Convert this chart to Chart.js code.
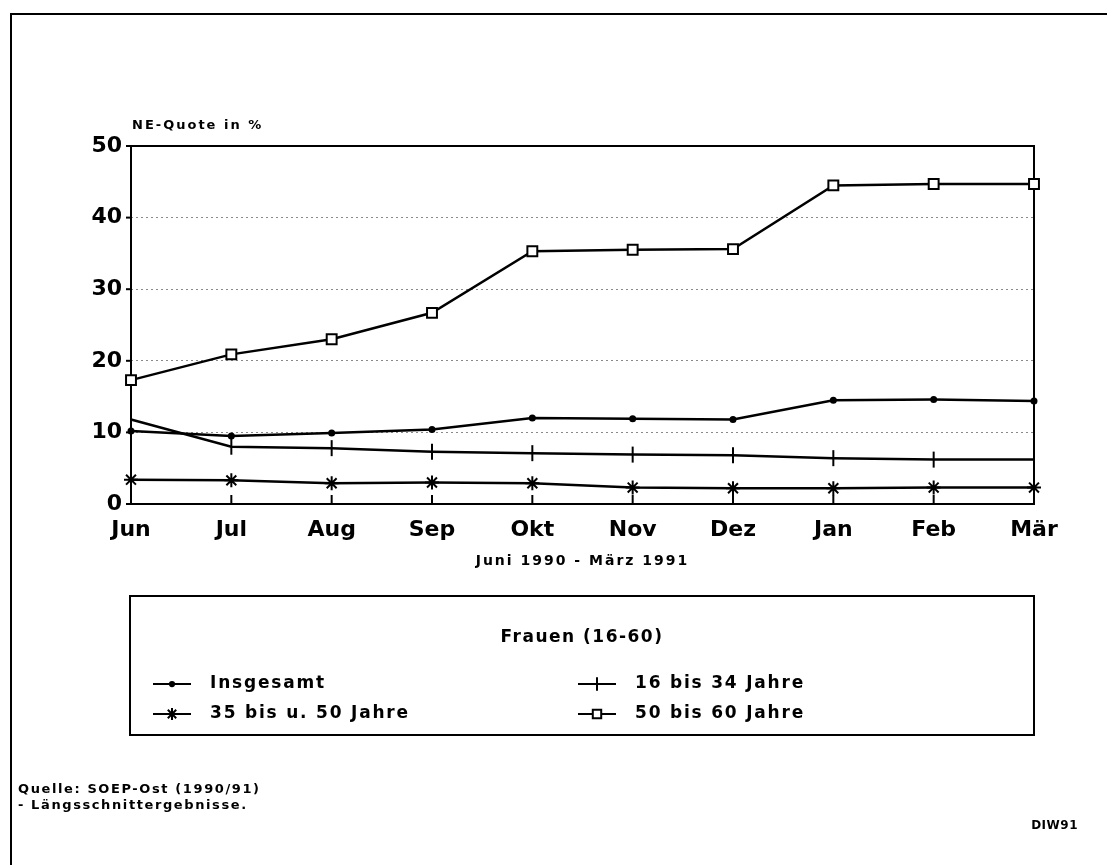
<!DOCTYPE html>
<html><head><meta charset="utf-8">
<script src="https://cdn.jsdelivr.net/npm/chart.js@4/dist/chart.umd.min.js"></script>
<style>html,body{margin:0;padding:0;background:#fff}canvas{display:block}</style>
</head><body>
<canvas id="c" width="1107" height="865"></canvas>
<script>
const categories = ['Jun','Jul','Aug','Sep','Okt','Nov','Dez','Jan','Feb','Mär'];
const insgesamt = [10.2, 9.5, 9.9, 10.4, 12.0, 11.9, 11.8, 14.5, 14.6, 14.4];
const j16bis34 = [11.8, 8.0, 7.8, 7.3, 7.1, 6.9, 6.8, 6.4, 6.2, 6.2];
const j35bis50 = [3.4, 3.3, 2.9, 3.0, 2.9, 2.3, 2.2, 2.2, 2.3, 2.3];
const j50bis60 = [17.3, 20.9, 23.0, 26.7, 35.3, 35.5, 35.6, 44.5, 44.7, 44.7];
const seriesNames = ['Insgesamt','16 bis 34 Jahre','35 bis u. 50 Jahre','50 bis 60 Jahre'];
const yTicks = [0, 10, 20, 30, 40, 50];
const yTitle = 'NE-Quote in %';
const xTitle = 'Juni 1990 - März 1991';
const legendTitle = 'Frauen (16-60)';
const sourceLines = ['Quelle: SOEP-Ost (1990/91)', '- Längsschnittergebnisse.'];
const credit = 'DIW91';

const FONT = '"DejaVu Sans", "Liberation Sans", Arial, sans-serif';

function ds(label, data, style){
  return Object.assign({label, data, borderColor:'#000', backgroundColor:'#000', borderWidth:2.5,
    pointBorderColor:'#000', pointBorderWidth:2, tension:0, clip:false}, style);
}
const datasets = [
  ds(seriesNames[0], insgesamt, {pointStyle:'circle', pointRadius:2.5, pointBackgroundColor:'#000'}),
  ds(seriesNames[1], j16bis34, {pointStyle:'line', pointRotation:90, pointRadius:8, pointBackgroundColor:'#000'}),
  ds(seriesNames[2], j35bis50, {pointStyle:'star', pointRadius:7, pointBackgroundColor:'#000'}),
  ds(seriesNames[3], j50bis60, {pointStyle:'rect', pointRadius:7, pointBackgroundColor:'#fff'})
];

function txt(ctx, s, x, y, size, align, spacing){
  ctx.font = 'bold ' + size + 'px ' + FONT;
  ctx.textAlign = align || 'left';
  ctx.textBaseline = 'middle';
  try { ctx.letterSpacing = (spacing||0) + 'px'; } catch(e){}
  ctx.fillStyle = '#000';
  ctx.fillText(s, x, y);
  try { ctx.letterSpacing = '0px'; } catch(e){}
}
function seg(ctx,x1,y1,x2,y2,w){ctx.beginPath();ctx.lineWidth=w||2;ctx.moveTo(x1,y1);ctx.lineTo(x2,y2);ctx.stroke();}

const deco = {
  id:'deco',
  beforeDatasetsDraw(chart){
    const {ctx, chartArea:a, scales:{x,y}} = chart;
    ctx.save();
    ctx.strokeStyle = '#000';
    ctx.lineWidth = 2;
    ctx.strokeRect(a.left, a.top, a.right-a.left, a.bottom-a.top);
    categories.forEach((c,i)=>{ const px = x.getPixelForValue(i); seg(ctx,px,a.bottom,px,a.bottom-9,2); });
    yTicks.forEach(v=>{ const py = y.getPixelForValue(v); seg(ctx,a.left-5,py,a.left,py,2); });
    ctx.restore();
  },
  afterDraw(chart){
    const {ctx, chartArea:a} = chart;
    ctx.save();
    ctx.strokeStyle = '#000';
    // outer frame
    ctx.beginPath(); ctx.lineWidth = 2;
    ctx.moveTo(11, 865); ctx.lineTo(11, 14); ctx.lineTo(1107, 14); ctx.stroke();
    // titles
    txt(ctx, yTitle, a.left+1, 126, 13, 'left', 2);
    txt(ctx, xTitle, (a.left+a.right)/2, 561, 14, 'center', 2);
    // legend box
    ctx.lineWidth = 2;
    ctx.strokeRect(130, 596, 904, 139);
    txt(ctx, legendTitle, 582, 638, 17, 'center', 1.5);
    const pos = [[153,684],[578,684],[153,714],[578,714]];
    chart.data.datasets.forEach((d,i)=>{
      const [lx,ly] = pos[i];
      ctx.strokeStyle = '#000';
      seg(ctx, lx, ly, lx+38, ly, 2);
      ctx.fillStyle = d.pointBackgroundColor;
      ctx.lineWidth = 2;
      Chart.helpers.drawPoint(ctx, {pointStyle:d.pointStyle, rotation:d.pointRotation||0,
        radius: Math.max(2, d.pointRadius*0.85), borderWidth:2}, lx+19, ly);
      txt(ctx, d.label, lx+57, ly, 17, 'left', 1.8);
    });
    // source
    txt(ctx, sourceLines[0], 18, 790, 13, 'left', 1.6);
    txt(ctx, sourceLines[1], 18, 806, 13, 'left', 1.6);
    txt(ctx, credit, 1078, 826, 12, 'right', 0.5);
    ctx.restore();
  }
};

new Chart(document.getElementById('c'), {
  type:'line',
  data:{ labels: categories, datasets },
  plugins:[deco],
  options:{
    responsive:false, devicePixelRatio:1, animation:false,
    layout:{ padding:{ left:71, right:73, top:146, bottom:301 } },
    plugins:{ legend:{display:false}, tooltip:{enabled:false} },
    scales:{
      x:{ type:'category', offset:false,
        grid:{ display:false, drawTicks:false },
        border:{ display:false },
        ticks:{ color:'#000', padding:13, maxRotation:0, autoSkip:false,
          font:{ family:FONT, size:22, weight:'bold' } },
        afterFit(s){ s.height = 60; } },
      y:{ min:0, max:50,
        afterBuildTicks(s){ s.ticks = yTicks.map(v=>({value:v})); },
        grid:{ color:(c)=> (c.tick && (c.tick.value===0 || c.tick.value===50)) ? 'rgba(0,0,0,0)' : '#8a8a8a',
          lineWidth:1, drawTicks:false },
        border:{ display:false, dash:[2,3] },
        ticks:{ color:'#000', padding:9, font:{ family:FONT, size:22, weight:'bold' } },
        afterFit(s){ s.width = 60; } }
    }
  }
});
</script>
</body></html>
